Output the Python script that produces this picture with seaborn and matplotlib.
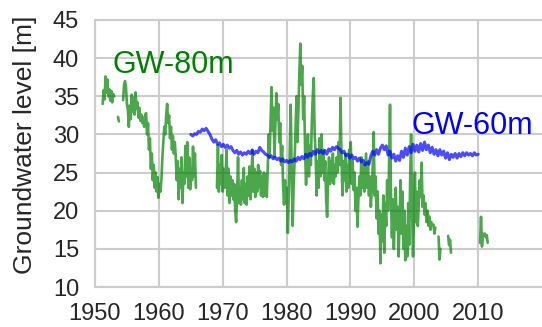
import numpy as np
import pandas as pd
import matplotlib
matplotlib.use("Agg")
import matplotlib.pyplot as plt
import seaborn as sns

nan = np.nan

# ---------------- data ----------------
# GW-80m: chunks of readings, sampled every 0.15 yr from the given start year;
# nan marks a break in the record.
gw80_step = 0.15
gw80_a_start, gw80_a = 1951.2, [34.0, 35.8, 34.6, 37.6, 35.5, 37.2, 35.0, 35.9, 34.4, 35.7,
                                34.2, 35.3, 35.0, nan]
gw80_b_start, gw80_b = 1953.6, [32.3, 31.7, nan]
gw80_c_start, gw80_c = 1954.4, [34.5, 36.5, 37.0, 36.2, 34.0, 33.2, 31.0, 33.8, 32.0, 35.2,
                                33.0, 34.8, 32.6, 35.5, 33.4, 34.2, 32.2, 33.5, 31.8, 32.6,
                                31.5, 32.2, 31.0, 32.5]
gw80_d_start, gw80_d = 1958.0, [32.8, 30.0, 31.5, 28.0, 29.5, 25.5, 27.5, 24.0, 26.0, 23.0,
                                25.0, 22.5, 24.4, 21.7, 23.5, 22.5, 24.0, 27.0, 29.0, 31.0,
                                30.0, 32.5, 34.0, 31.5, 32.5, 29.5, 31.0, 28.0, 29.8, 27.5,
                                29.0, 27.0]
gw80_e_start, gw80_e = 1962.8, [24.0, 26.5, 21.5, 25.5, 23.0, 27.0, 21.0, 25.0, 23.5, 28.5,
                                24.5, 29.0, 23.0, 27.0, 22.8, 25.5, 24.0, 28.4, 24.5, 27.5,
                                23.0, nan]
gw80_f_start, gw80_f = 1969.1, [23.0, 28.6, 22.5, 26.0, 23.5, 27.3, 22.5, 25.5, 23.0, 24.5,
                                28.0, 22.0, 25.5, 21.0, 24.5, 22.0, 24.0, 21.5, 23.5, 20.0,
                                18.5, 22.0, 27.0, 21.0, 23.0, 20.8, 24.0, 21.5, 25.6, 21.0,
                                23.5, 20.8, 24.5, 22.0, 25.8, 21.5, 24.0, 28.0, 22.5, 25.5,
                                21.8, 25.0, 22.5, 26.0, 23.0, 25.2, 22.0, 24.5, 21.8, 25.0,
                                22.0, 24.8, 21.8, 25.5]
gw80_g_start, gw80_g = 1977.2, [30.0, 27.0, 32.0, 36.2, 30.5, 33.5, 27.0, 31.0, 35.4, 32.0,
                                34.0, 29.0, 31.5, 26.0, 28.5, 23.5, 20.8, 24.0, 21.0, 23.0,
                                17.1, 22.0, 28.0, 33.9, 25.0, 18.0, 23.0, 26.5, 30.5, 35.0,
                                29.0, 33.0, 38.0, 41.9, 36.5, 39.0, 32.0, 35.0, 28.0, 23.4,
                                27.0, 30.0, 24.5, 28.5, 26.0, 31.5, 35.0, 37.4, 30.0, 27.5,
                                22.0, 26.5, 23.0, 29.5, 24.5, 30.0, 25.0, 28.0, 24.0, 26.5,
                                21.5, 19.2, 24.0, 27.0, 23.5, 26.5, 24.0, 27.5, 23.5, 26.0,
                                24.5, 27.0, 25.0, 29.0, 26.0, 34.8, 27.0, 22.0, 26.5, 24.0,
                                27.5, 22.5, 26.0, 23.0, 28.0, 24.5]
gw80_h_start, gw80_h = 1990.05, [29.0, 23.5, 26.5, 22.7, 25.0, 20.0, 23.0, 17.9, 21.5, 24.5,
                                 22.0, 27.0, 23.0, 26.0, 22.5, 25.0, 27.5, 23.0, 26.5, 22.0,
                                 24.5, 20.5, 23.0, 26.0, 30.3, 22.0, 24.5, 19.0, 22.5, 17.0,
                                 20.0, 13.1, 19.5, 16.0, 22.0, 14.5, 21.0, 18.0, 24.0, 20.0,
                                 26.0, 33.9, 22.0, 16.5, 21.5, 15.0, 19.5, 23.0, 17.5, 20.5,
                                 14.0, 19.0, 24.0, 17.0, 22.5, 15.0, 20.0, 13.5, 18.0, 14.0,
                                 21.0, 15.5, 24.0, 30.0, 20.0, 14.0, 19.0, 25.0, 18.5, 22.5,
                                 18.0, 21.0, 24.0, 21.8, 26.3, 20.5, 22.0, 19.5, 21.0, 18.5,
                                 nan]
gw80_i_start, gw80_i = 2002.1, [20.0, 18.0, 19.2, 17.5, 18.5, nan]
gw80_j_start, gw80_j = 2003.0, [18.2, 17.0, 17.8, nan]
gw80_k_start, gw80_k = 2003.8, [16.6, 13.6, 15.0, nan]
gw80_l_start, gw80_l = 2005.3, [16.7, 15.5, 16.2, 14.5, nan]
gw80_m_start, gw80_m = 2010.3, [15.8, 19.2, 15.3, 17.0, 16.7, 17.0, 16.5, 16.8, 15.8]

# GW-60m: readings every 0.3 yr from 1965.0
gw60_start, gw60_step = 1965.0, 0.3
gw60 = [30.0, 29.8, 30.1, 30.0, 30.4, 30.3, 30.7, 30.5, 30.8, 30.4,
        30.0, 29.4, 29.0, 29.3, 28.7, 28.9, 28.4, 28.7, 28.3, 28.6,
        28.2, 28.4, 27.9, 27.6, 27.9, 27.4, 27.7, 27.3, 27.6, 27.4,
        27.8, 27.5, 27.9, 27.4, 27.8, 27.6, 28.3, 27.9, 27.7, 27.4,
        27.3, 27.0, 27.2, 26.8, 27.0, 26.7, 26.9, 26.5, 26.8, 26.4,
        26.6, 26.3, 26.6, 26.4, 26.8, 26.5, 27.0, 26.7, 27.1, 26.8,
        27.4, 27.0, 27.5, 27.2, 27.8, 27.4, 28.0, 27.6, 27.9, 27.5,
        27.9, 27.4, 28.1, 27.8, 28.3, 28.0, 28.4, 28.2, 28.0, 27.6,
        27.8, 27.2, 27.4, 26.9, 27.3, 26.8, 27.0, 26.5, 26.9, 26.4,
        26.6, 26.0, 26.3, 26.1, 27.2, 27.8, 27.3, 28.0, 27.4, 28.2,
        28.6, 28.0, 28.5, 27.3, 27.8, 26.9, 27.4, 26.5, 27.2, 26.6,
        27.8, 27.0, 28.2, 27.3, 28.4, 27.6, 28.7, 27.8, 28.6, 27.7,
        28.8, 27.9, 29.0, 28.0, 28.6, 27.6, 28.3, 27.4, 28.0, 27.2,
        28.0, 27.3, 27.8, 26.9, 27.6, 26.7, 27.4, 27.0, 27.5, 26.9,
        27.5, 27.1, 27.6, 27.2, 27.6, 27.3, 27.5, 27.2, 27.6, 27.3,
        27.4]

x_ticks = [1950, 1960, 1970, 1980, 1990, 2000, 2010]
y_ticks = [10, 15, 20, 25, 30, 35, 40, 45]
y_label = "Groundwater level [m]"
label_80 = "GW-80m"
label_60 = "GW-60m"

# ---------------- build tables ----------------
chunks = [(gw80_a_start, gw80_a), (gw80_b_start, gw80_b), (gw80_c_start, gw80_c),
          (gw80_d_start, gw80_d), (gw80_e_start, gw80_e), (gw80_f_start, gw80_f),
          (gw80_g_start, gw80_g), (gw80_h_start, gw80_h), (gw80_i_start, gw80_i),
          (gw80_j_start, gw80_j), (gw80_k_start, gw80_k), (gw80_l_start, gw80_l),
          (gw80_m_start, gw80_m)]
rows = []
seg = 0
for start, vals in chunks:
    for i, v in enumerate(vals):
        if np.isnan(v):
            seg += 1
            continue
        rows.append((start + gw80_step * i, v, seg))
df80 = pd.DataFrame(rows, columns=["year", "level", "seg"])

df60 = pd.DataFrame({"year": gw60_start + gw60_step * np.arange(len(gw60)),
                     "level": gw60})

# ---------------- plot ----------------
sns.set_theme(style="whitegrid")
plt.rcParams["font.family"] = ["Liberation Sans", "DejaVu Sans"]

fig = plt.figure(figsize=(5.42, 3.27), dpi=100)
ax = fig.add_axes([95 / 542, 1 - 287 / 327, 447 / 542, 267 / 327])

sns.lineplot(data=df80, x="year", y="level", units="seg", estimator=None,
             color="green", alpha=0.7, lw=1.9, ax=ax, legend=False)
sns.lineplot(data=df60, x="year", y="level", color="blue", alpha=0.7,
             lw=2.2, ax=ax, legend=False)

ax.text(1952.7, 38.05, label_80, color="green", fontsize=22, ha="left", va="baseline")
ax.text(1999.5, 30.0, label_60, color="blue", fontsize=22, ha="left", va="baseline")

ax.set_xlim(1950, 2020)
ax.set_ylim(10, 45)
ax.set_xticks(x_ticks)
ax.set_yticks(y_ticks)
ax.set_xlabel("")
ax.set_ylabel(y_label, fontsize=19, color=".15")
ax.yaxis.set_label_coords((37 - 95) / 447, (287 - 145) / 267)
ax.tick_params(labelsize=17, length=0, pad=11.5, labelcolor=".15")
ax.grid(True, color=".8", lw=1.5)
for s in ["left", "top", "bottom"]:
    ax.spines[s].set_color(".8")
    ax.spines[s].set_linewidth(1.5)
ax.spines["right"].set_visible(False)

fig.savefig("out.png", dpi=100)
